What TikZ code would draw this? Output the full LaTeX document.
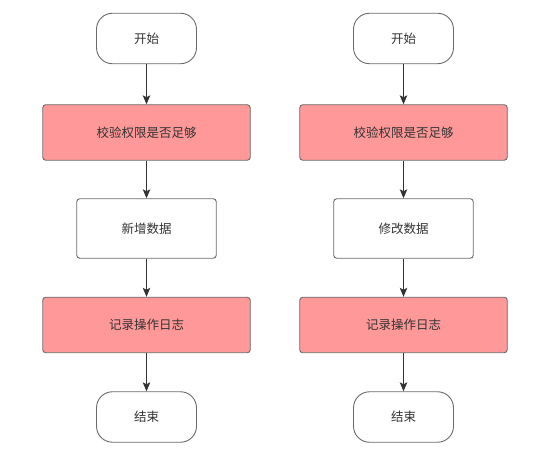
\documentclass[tikz,border=0pt]{standalone}
\usepackage{fontspec}
\setmainfont{Noto Sans CJK SC}
\usetikzlibrary{arrows.meta}
\definecolor{boxline}{HTML}{6B6B6B}
\definecolor{redfill}{HTML}{FF9999}
\definecolor{txt}{HTML}{333333}
\tikzset{
  x=1pt,y=-1pt,
  base/.style={draw=boxline,line width=0.9pt,text=txt,font=\fontsize{12.5}{15}\selectfont,inner sep=0pt},
  term/.style={base,minimum width=100pt,minimum height=50.5pt,rounded corners=16pt,fill=white},
  redbox/.style={base,minimum width=207.5pt,minimum height=55.5pt,rounded corners=3pt,fill=redfill},
  whitebox/.style={base,minimum width=139.5pt,minimum height=59.5pt,rounded corners=3pt,fill=white},
  arr/.style={draw=txt,line width=0.9pt,-{Stealth[length=9pt,width=7.5pt,inset=2pt]}}
}
\begin{document}
\begin{tikzpicture}
\useasboundingbox (0,0) rectangle (549,462);
\foreach \c/\k/\mid in {146.5/L/新增数据, 403.5/R/修改数据}{
  \node[term] (s\k) at (\c,38.5) {开始};
  \node[redbox] (a\k) at (\c,132.5) {校验权限是否足够};
  \node[whitebox] (m\k) at (\c,228.5) {\mid};
  \node[redbox] (b\k) at (\c,325) {记录操作日志};
  \node[term] (e\k) at (\c,417) {结束};
  \draw[arr] (s\k) -- (a\k);
  \draw[arr] (a\k) -- (m\k);
  \draw[arr] (m\k) -- (b\k);
  \draw[arr] (b\k) -- (e\k);
}
\end{tikzpicture}
\end{document}
